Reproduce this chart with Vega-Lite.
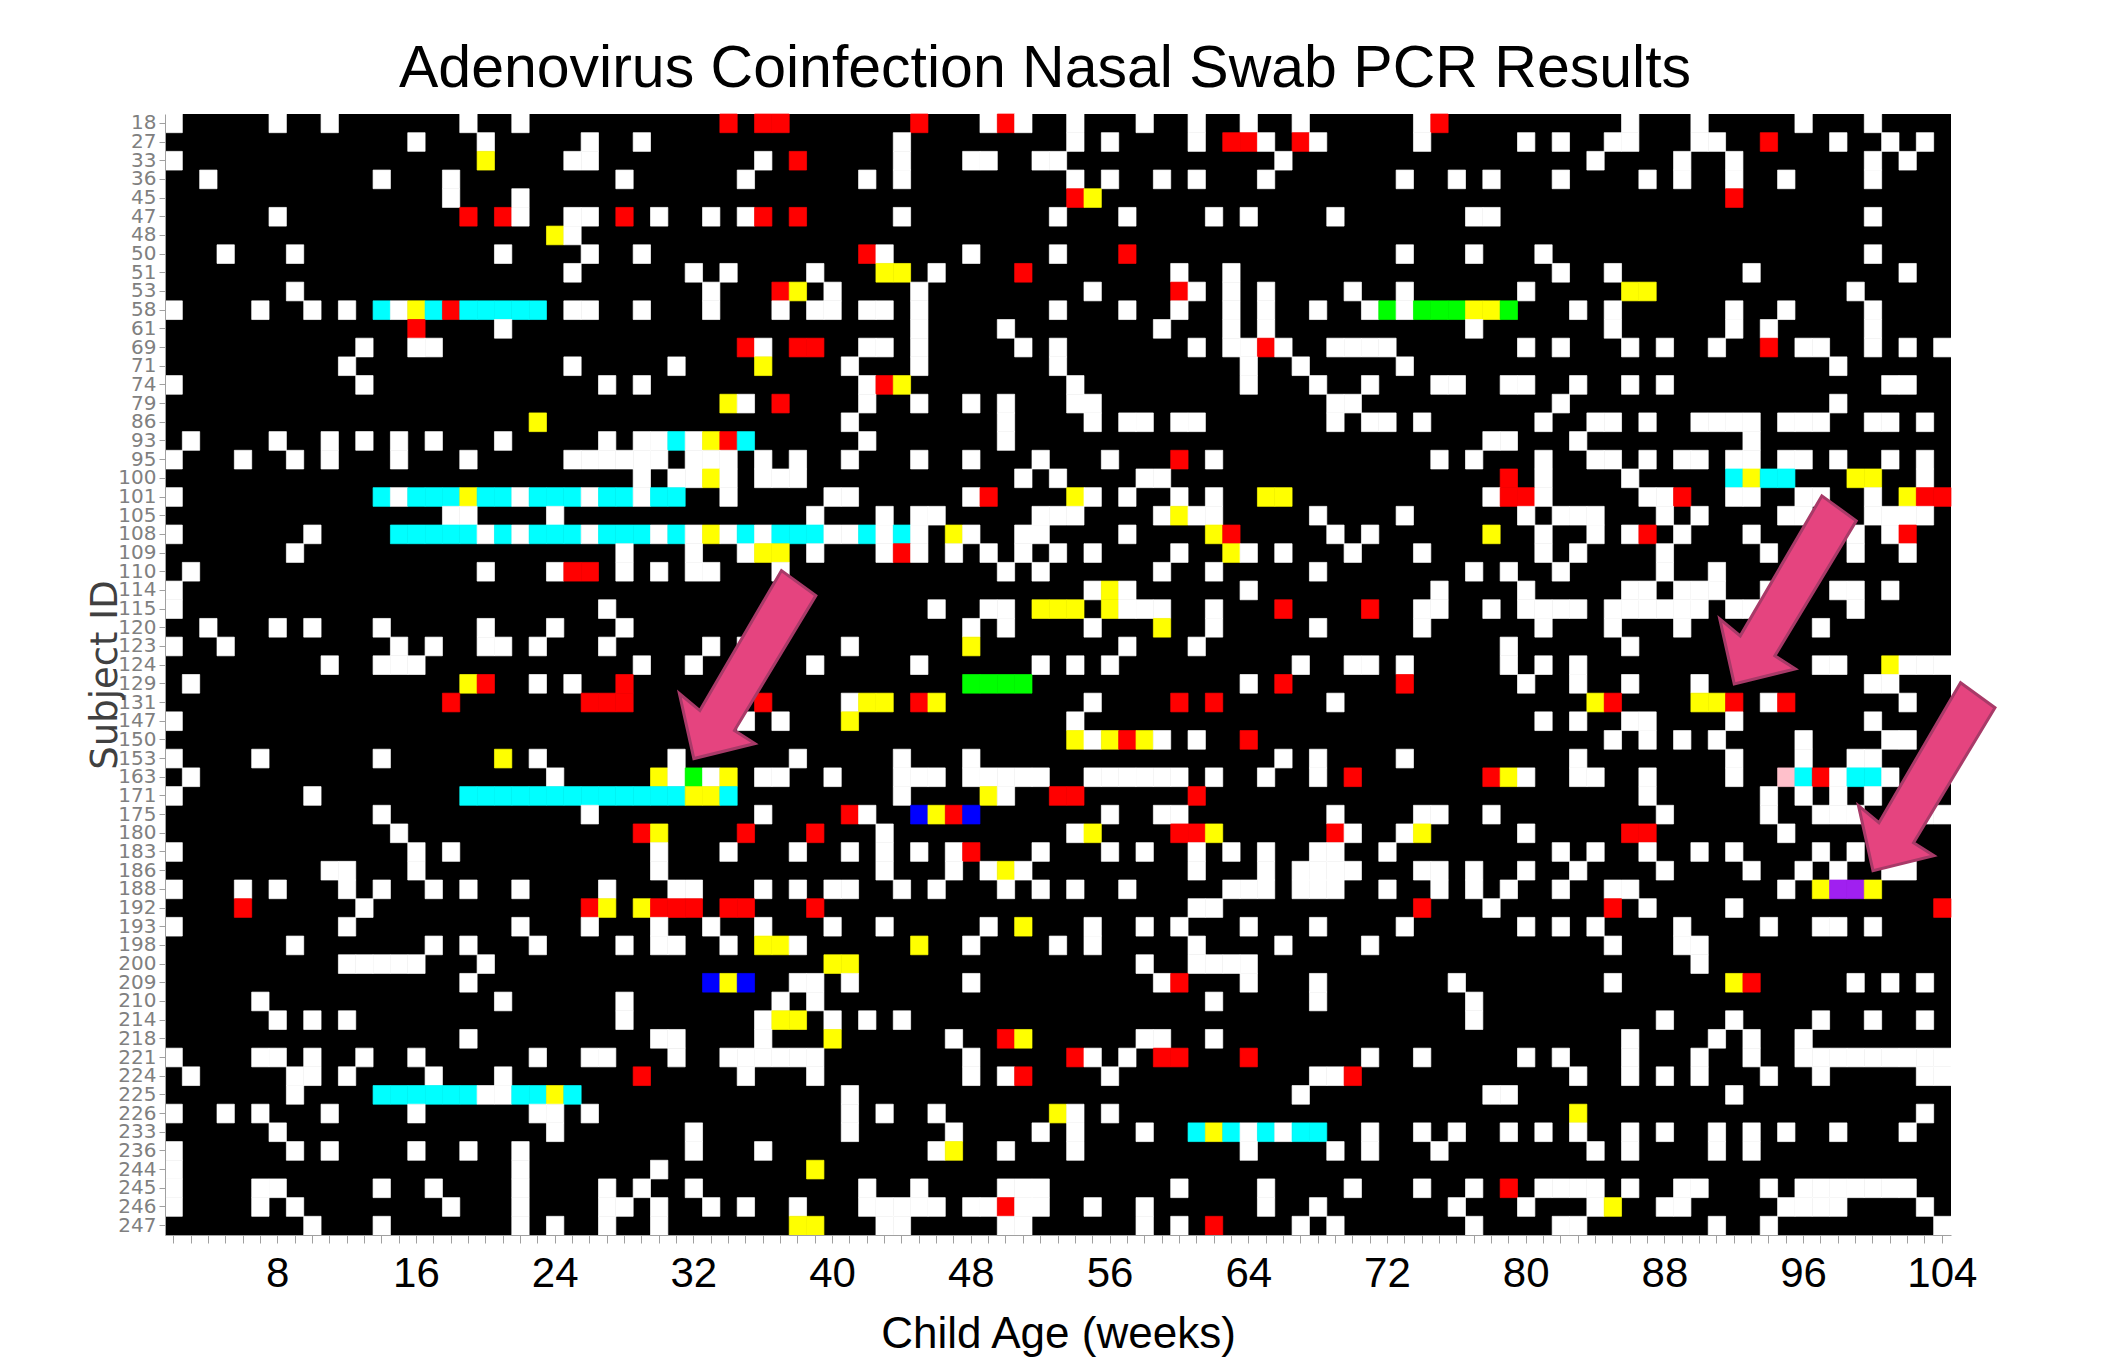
{"$schema":"https://vega.github.io/schema/vega-lite/v6.json","autosize":{"type":"none"},"padding":{"left":165,"top":114,"right":169,"bottom":122},"width":1786,"height":1121,"background":"white","view":{"fill":"black","stroke":null},
"title":{"text":"Adenovirus Coinfection Nasal Swab PCR Results","font":"Liberation Sans","fontSize":59,"fontWeight":"normal","color":"black","offset":14,"dx":-13},
"encoding":{
"x":{"field":"w","type":"ordinal","scale":{"domain":[2,3,4,5,6,7,8,9,10,11,12,13,14,15,16,17,18,19,20,21,22,23,24,25,26,27,28,29,30,31,32,33,34,35,36,37,38,39,40,41,42,43,44,45,46,47,48,49,50,51,52,53,54,55,56,57,58,59,60,61,62,63,64,65,66,67,68,69,70,71,72,73,74,75,76,77,78,79,80,81,82,83,84,85,86,87,88,89,90,91,92,93,94,95,96,97,98,99,100,101,102,103,104],"paddingInner":0,"paddingOuter":0},"axis":{"title":"Child Age (weeks)","titleFont":"Liberation Sans","titleFontSize":44,"titleFontWeight":"normal","titleColor":"black","titlePadding":18,"labelFont":"Liberation Sans","labelFontSize":42,"labelColor":"black","labelAngle":0,"labelOverlap":false,"labelPadding":10,"labelExpr":"datum.value % 8 == 0 ? datum.value : ''","tickSize":8,"tickColor":"#a0a0a0","domainColor":"#a0a0a0","grid":false}},
"y":{"field":"s","type":"ordinal","scale":{"domain":[18,27,33,36,45,47,48,50,51,53,58,61,69,71,74,79,86,93,95,100,101,105,108,109,110,114,115,120,123,124,129,131,147,150,153,163,171,175,180,183,186,188,192,193,198,200,209,210,214,218,221,224,225,226,233,236,244,245,246,247],"paddingInner":0,"paddingOuter":0},"axis":{"title":"Subject ID","titleFont":"DejaVu Sans","titleFontSize":37,"titleFontWeight":"normal","titleColor":"#404040","titlePadding":-7,"labelFont":"DejaVu Sans","labelFontSize":20,"labelColor":"#808080","labelOverlap":false,"labelPadding":3,"tickSize":6,"tickColor":"#a0a0a0","domainColor":"#a0a0a0","grid":false}}},
"layer":[
{"data":{"values":[
{"s":18,"w":2,"c":"W"},{"s":18,"w":8,"c":"W"},{"s":18,"w":11,"c":"W"},{"s":18,"w":19,"c":"W"},{"s":18,"w":22,"c":"W"},{"s":18,"w":34,"c":"R"},{"s":18,"w":36,"c":"R"},{"s":18,"w":37,"c":"R"},{"s":18,"w":45,"c":"R"},{"s":18,"w":49,"c":"W"},{"s":18,"w":50,"c":"R"},{"s":18,"w":51,"c":"W"},{"s":18,"w":54,"c":"W"},{"s":18,"w":58,"c":"W"},{"s":18,"w":61,"c":"W"},{"s":18,"w":64,"c":"W"},{"s":18,"w":67,"c":"W"},{"s":18,"w":74,"c":"W"},{"s":18,"w":75,"c":"R"},{"s":18,"w":86,"c":"W"},{"s":18,"w":90,"c":"W"},{"s":18,"w":96,"c":"W"},{"s":18,"w":100,"c":"W"},
{"s":27,"w":16,"c":"W"},{"s":27,"w":20,"c":"W"},{"s":27,"w":26,"c":"W"},{"s":27,"w":29,"c":"W"},{"s":27,"w":44,"c":"W"},{"s":27,"w":54,"c":"W"},{"s":27,"w":56,"c":"W"},{"s":27,"w":61,"c":"W"},{"s":27,"w":63,"c":"R"},{"s":27,"w":64,"c":"R"},{"s":27,"w":65,"c":"W"},{"s":27,"w":67,"c":"R"},{"s":27,"w":68,"c":"W"},{"s":27,"w":74,"c":"W"},{"s":27,"w":80,"c":"W"},{"s":27,"w":82,"c":"W"},{"s":27,"w":85,"c":"W"},{"s":27,"w":86,"c":"W"},{"s":27,"w":90,"c":"W"},{"s":27,"w":91,"c":"W"},{"s":27,"w":94,"c":"R"},{"s":27,"w":98,"c":"W"},{"s":27,"w":101,"c":"W"},{"s":27,"w":103,"c":"W"},
{"s":33,"w":2,"c":"W"},{"s":33,"w":20,"c":"Y"},{"s":33,"w":25,"c":"W"},{"s":33,"w":26,"c":"W"},{"s":33,"w":36,"c":"W"},{"s":33,"w":38,"c":"R"},{"s":33,"w":44,"c":"W"},{"s":33,"w":48,"c":"W"},{"s":33,"w":49,"c":"W"},{"s":33,"w":52,"c":"W"},{"s":33,"w":53,"c":"W"},{"s":33,"w":66,"c":"W"},{"s":33,"w":84,"c":"W"},{"s":33,"w":89,"c":"W"},{"s":33,"w":92,"c":"W"},{"s":33,"w":100,"c":"W"},{"s":33,"w":102,"c":"W"},
{"s":36,"w":4,"c":"W"},{"s":36,"w":14,"c":"W"},{"s":36,"w":18,"c":"W"},{"s":36,"w":28,"c":"W"},{"s":36,"w":35,"c":"W"},{"s":36,"w":42,"c":"W"},{"s":36,"w":44,"c":"W"},{"s":36,"w":54,"c":"W"},{"s":36,"w":56,"c":"W"},{"s":36,"w":59,"c":"W"},{"s":36,"w":61,"c":"W"},{"s":36,"w":65,"c":"W"},{"s":36,"w":73,"c":"W"},{"s":36,"w":76,"c":"W"},{"s":36,"w":78,"c":"W"},{"s":36,"w":82,"c":"W"},{"s":36,"w":87,"c":"W"},{"s":36,"w":89,"c":"W"},{"s":36,"w":92,"c":"W"},{"s":36,"w":95,"c":"W"},{"s":36,"w":100,"c":"W"},
{"s":45,"w":18,"c":"W"},{"s":45,"w":22,"c":"W"},{"s":45,"w":54,"c":"R"},{"s":45,"w":55,"c":"Y"},{"s":45,"w":92,"c":"R"},
{"s":47,"w":8,"c":"W"},{"s":47,"w":19,"c":"R"},{"s":47,"w":21,"c":"R"},{"s":47,"w":22,"c":"W"},{"s":47,"w":25,"c":"W"},{"s":47,"w":26,"c":"W"},{"s":47,"w":28,"c":"R"},{"s":47,"w":30,"c":"W"},{"s":47,"w":33,"c":"W"},{"s":47,"w":35,"c":"W"},{"s":47,"w":36,"c":"R"},{"s":47,"w":38,"c":"R"},{"s":47,"w":44,"c":"W"},{"s":47,"w":53,"c":"W"},{"s":47,"w":57,"c":"W"},{"s":47,"w":62,"c":"W"},{"s":47,"w":64,"c":"W"},{"s":47,"w":69,"c":"W"},{"s":47,"w":77,"c":"W"},{"s":47,"w":78,"c":"W"},{"s":47,"w":100,"c":"W"},
{"s":48,"w":24,"c":"Y"},{"s":48,"w":25,"c":"W"},
{"s":50,"w":5,"c":"W"},{"s":50,"w":9,"c":"W"},{"s":50,"w":21,"c":"W"},{"s":50,"w":26,"c":"W"},{"s":50,"w":29,"c":"W"},{"s":50,"w":42,"c":"R"},{"s":50,"w":43,"c":"W"},{"s":50,"w":48,"c":"W"},{"s":50,"w":53,"c":"W"},{"s":50,"w":57,"c":"R"},{"s":50,"w":73,"c":"W"},{"s":50,"w":77,"c":"W"},{"s":50,"w":81,"c":"W"},{"s":50,"w":100,"c":"W"},
{"s":51,"w":25,"c":"W"},{"s":51,"w":32,"c":"W"},{"s":51,"w":34,"c":"W"},{"s":51,"w":39,"c":"W"},{"s":51,"w":43,"c":"Y"},{"s":51,"w":44,"c":"Y"},{"s":51,"w":46,"c":"W"},{"s":51,"w":51,"c":"R"},{"s":51,"w":60,"c":"W"},{"s":51,"w":63,"c":"W"},{"s":51,"w":82,"c":"W"},{"s":51,"w":85,"c":"W"},{"s":51,"w":93,"c":"W"},{"s":51,"w":102,"c":"W"},
{"s":53,"w":9,"c":"W"},{"s":53,"w":33,"c":"W"},{"s":53,"w":37,"c":"R"},{"s":53,"w":38,"c":"Y"},{"s":53,"w":40,"c":"W"},{"s":53,"w":45,"c":"W"},{"s":53,"w":55,"c":"W"},{"s":53,"w":60,"c":"R"},{"s":53,"w":61,"c":"W"},{"s":53,"w":63,"c":"W"},{"s":53,"w":65,"c":"W"},{"s":53,"w":70,"c":"W"},{"s":53,"w":73,"c":"W"},{"s":53,"w":80,"c":"W"},{"s":53,"w":86,"c":"Y"},{"s":53,"w":87,"c":"Y"},{"s":53,"w":99,"c":"W"},
{"s":58,"w":2,"c":"W"},{"s":58,"w":7,"c":"W"},{"s":58,"w":10,"c":"W"},{"s":58,"w":12,"c":"W"},{"s":58,"w":14,"c":"C"},{"s":58,"w":15,"c":"W"},{"s":58,"w":16,"c":"Y"},{"s":58,"w":17,"c":"C"},{"s":58,"w":18,"c":"R"},{"s":58,"w":19,"c":"C"},{"s":58,"w":20,"c":"C"},{"s":58,"w":21,"c":"C"},{"s":58,"w":22,"c":"C"},{"s":58,"w":23,"c":"C"},{"s":58,"w":25,"c":"W"},{"s":58,"w":26,"c":"W"},{"s":58,"w":29,"c":"W"},{"s":58,"w":33,"c":"W"},{"s":58,"w":37,"c":"W"},{"s":58,"w":39,"c":"W"},{"s":58,"w":40,"c":"W"},{"s":58,"w":42,"c":"W"},{"s":58,"w":43,"c":"W"},{"s":58,"w":45,"c":"W"},{"s":58,"w":53,"c":"W"},{"s":58,"w":57,"c":"W"},{"s":58,"w":60,"c":"W"},{"s":58,"w":63,"c":"W"},{"s":58,"w":65,"c":"W"},{"s":58,"w":68,"c":"W"},{"s":58,"w":71,"c":"W"},{"s":58,"w":72,"c":"G"},{"s":58,"w":73,"c":"W"},{"s":58,"w":74,"c":"G"},{"s":58,"w":75,"c":"G"},{"s":58,"w":76,"c":"G"},{"s":58,"w":77,"c":"Y"},{"s":58,"w":78,"c":"Y"},{"s":58,"w":79,"c":"G"},{"s":58,"w":83,"c":"W"},{"s":58,"w":85,"c":"W"},{"s":58,"w":92,"c":"W"},{"s":58,"w":95,"c":"W"},{"s":58,"w":100,"c":"W"},
{"s":61,"w":16,"c":"R"},{"s":61,"w":21,"c":"W"},{"s":61,"w":45,"c":"W"},{"s":61,"w":50,"c":"W"},{"s":61,"w":59,"c":"W"},{"s":61,"w":63,"c":"W"},{"s":61,"w":65,"c":"W"},{"s":61,"w":77,"c":"W"},{"s":61,"w":85,"c":"W"},{"s":61,"w":92,"c":"W"},{"s":61,"w":94,"c":"W"},{"s":61,"w":100,"c":"W"},
{"s":69,"w":13,"c":"W"},{"s":69,"w":16,"c":"W"},{"s":69,"w":17,"c":"W"},{"s":69,"w":35,"c":"R"},{"s":69,"w":36,"c":"W"},{"s":69,"w":38,"c":"R"},{"s":69,"w":39,"c":"R"},{"s":69,"w":42,"c":"W"},{"s":69,"w":43,"c":"W"},{"s":69,"w":45,"c":"W"},{"s":69,"w":51,"c":"W"},{"s":69,"w":53,"c":"W"},{"s":69,"w":61,"c":"W"},{"s":69,"w":63,"c":"W"},{"s":69,"w":64,"c":"W"},{"s":69,"w":65,"c":"R"},{"s":69,"w":66,"c":"W"},{"s":69,"w":69,"c":"W"},{"s":69,"w":70,"c":"W"},{"s":69,"w":71,"c":"W"},{"s":69,"w":72,"c":"W"},{"s":69,"w":80,"c":"W"},{"s":69,"w":82,"c":"W"},{"s":69,"w":86,"c":"W"},{"s":69,"w":88,"c":"W"},{"s":69,"w":91,"c":"W"},{"s":69,"w":94,"c":"R"},{"s":69,"w":96,"c":"W"},{"s":69,"w":97,"c":"W"},{"s":69,"w":100,"c":"W"},{"s":69,"w":102,"c":"W"},{"s":69,"w":104,"c":"W"},
{"s":71,"w":12,"c":"W"},{"s":71,"w":25,"c":"W"},{"s":71,"w":31,"c":"W"},{"s":71,"w":36,"c":"Y"},{"s":71,"w":41,"c":"W"},{"s":71,"w":45,"c":"W"},{"s":71,"w":53,"c":"W"},{"s":71,"w":64,"c":"W"},{"s":71,"w":67,"c":"W"},{"s":71,"w":73,"c":"W"},{"s":71,"w":98,"c":"W"},
{"s":74,"w":2,"c":"W"},{"s":74,"w":13,"c":"W"},{"s":74,"w":27,"c":"W"},{"s":74,"w":29,"c":"W"},{"s":74,"w":42,"c":"W"},{"s":74,"w":43,"c":"R"},{"s":74,"w":44,"c":"Y"},{"s":74,"w":54,"c":"W"},{"s":74,"w":64,"c":"W"},{"s":74,"w":68,"c":"W"},{"s":74,"w":71,"c":"W"},{"s":74,"w":75,"c":"W"},{"s":74,"w":76,"c":"W"},{"s":74,"w":79,"c":"W"},{"s":74,"w":80,"c":"W"},{"s":74,"w":83,"c":"W"},{"s":74,"w":86,"c":"W"},{"s":74,"w":88,"c":"W"},{"s":74,"w":101,"c":"W"},{"s":74,"w":102,"c":"W"},
{"s":79,"w":34,"c":"Y"},{"s":79,"w":35,"c":"W"},{"s":79,"w":37,"c":"R"},{"s":79,"w":42,"c":"W"},{"s":79,"w":45,"c":"W"},{"s":79,"w":48,"c":"W"},{"s":79,"w":50,"c":"W"},{"s":79,"w":54,"c":"W"},{"s":79,"w":55,"c":"W"},{"s":79,"w":69,"c":"W"},{"s":79,"w":70,"c":"W"},{"s":79,"w":82,"c":"W"},{"s":79,"w":98,"c":"W"},
{"s":86,"w":23,"c":"Y"},{"s":86,"w":41,"c":"W"},{"s":86,"w":50,"c":"W"},{"s":86,"w":55,"c":"W"},{"s":86,"w":57,"c":"W"},{"s":86,"w":58,"c":"W"},{"s":86,"w":60,"c":"W"},{"s":86,"w":61,"c":"W"},{"s":86,"w":69,"c":"W"},{"s":86,"w":71,"c":"W"},{"s":86,"w":72,"c":"W"},{"s":86,"w":74,"c":"W"},{"s":86,"w":81,"c":"W"},{"s":86,"w":84,"c":"W"},{"s":86,"w":85,"c":"W"},{"s":86,"w":87,"c":"W"},{"s":86,"w":90,"c":"W"},{"s":86,"w":91,"c":"W"},{"s":86,"w":92,"c":"W"},{"s":86,"w":93,"c":"W"},{"s":86,"w":95,"c":"W"},{"s":86,"w":96,"c":"W"},{"s":86,"w":97,"c":"W"},{"s":86,"w":100,"c":"W"},{"s":86,"w":101,"c":"W"},{"s":86,"w":103,"c":"W"},
{"s":93,"w":3,"c":"W"},{"s":93,"w":8,"c":"W"},{"s":93,"w":11,"c":"W"},{"s":93,"w":13,"c":"W"},{"s":93,"w":15,"c":"W"},{"s":93,"w":17,"c":"W"},{"s":93,"w":21,"c":"W"},{"s":93,"w":27,"c":"W"},{"s":93,"w":29,"c":"W"},{"s":93,"w":30,"c":"W"},{"s":93,"w":31,"c":"C"},{"s":93,"w":32,"c":"W"},{"s":93,"w":33,"c":"Y"},{"s":93,"w":34,"c":"R"},{"s":93,"w":35,"c":"C"},{"s":93,"w":42,"c":"W"},{"s":93,"w":50,"c":"W"},{"s":93,"w":78,"c":"W"},{"s":93,"w":79,"c":"W"},{"s":93,"w":83,"c":"W"},{"s":93,"w":93,"c":"W"},
{"s":95,"w":2,"c":"W"},{"s":95,"w":6,"c":"W"},{"s":95,"w":9,"c":"W"},{"s":95,"w":11,"c":"W"},{"s":95,"w":15,"c":"W"},{"s":95,"w":19,"c":"W"},{"s":95,"w":25,"c":"W"},{"s":95,"w":26,"c":"W"},{"s":95,"w":27,"c":"W"},{"s":95,"w":28,"c":"W"},{"s":95,"w":29,"c":"W"},{"s":95,"w":30,"c":"W"},{"s":95,"w":32,"c":"W"},{"s":95,"w":33,"c":"W"},{"s":95,"w":34,"c":"W"},{"s":95,"w":36,"c":"W"},{"s":95,"w":38,"c":"W"},{"s":95,"w":41,"c":"W"},{"s":95,"w":45,"c":"W"},{"s":95,"w":48,"c":"W"},{"s":95,"w":52,"c":"W"},{"s":95,"w":56,"c":"W"},{"s":95,"w":60,"c":"R"},{"s":95,"w":62,"c":"W"},{"s":95,"w":75,"c":"W"},{"s":95,"w":77,"c":"W"},{"s":95,"w":81,"c":"W"},{"s":95,"w":84,"c":"W"},{"s":95,"w":85,"c":"W"},{"s":95,"w":87,"c":"W"},{"s":95,"w":89,"c":"W"},{"s":95,"w":90,"c":"W"},{"s":95,"w":92,"c":"W"},{"s":95,"w":93,"c":"W"},{"s":95,"w":95,"c":"W"},{"s":95,"w":96,"c":"W"},{"s":95,"w":98,"c":"W"},{"s":95,"w":101,"c":"W"},{"s":95,"w":103,"c":"W"},
{"s":100,"w":29,"c":"W"},{"s":100,"w":31,"c":"W"},{"s":100,"w":32,"c":"W"},{"s":100,"w":33,"c":"Y"},{"s":100,"w":34,"c":"W"},{"s":100,"w":36,"c":"W"},{"s":100,"w":37,"c":"W"},{"s":100,"w":38,"c":"W"},{"s":100,"w":51,"c":"W"},{"s":100,"w":53,"c":"W"},{"s":100,"w":58,"c":"W"},{"s":100,"w":59,"c":"W"},{"s":100,"w":79,"c":"R"},{"s":100,"w":81,"c":"W"},{"s":100,"w":86,"c":"W"},{"s":100,"w":92,"c":"C"},{"s":100,"w":93,"c":"Y"},{"s":100,"w":94,"c":"C"},{"s":100,"w":95,"c":"C"},{"s":100,"w":99,"c":"Y"},{"s":100,"w":100,"c":"Y"},{"s":100,"w":103,"c":"W"},
{"s":101,"w":2,"c":"W"},{"s":101,"w":14,"c":"C"},{"s":101,"w":15,"c":"W"},{"s":101,"w":16,"c":"C"},{"s":101,"w":17,"c":"C"},{"s":101,"w":18,"c":"C"},{"s":101,"w":19,"c":"Y"},{"s":101,"w":20,"c":"C"},{"s":101,"w":21,"c":"C"},{"s":101,"w":22,"c":"W"},{"s":101,"w":23,"c":"C"},{"s":101,"w":24,"c":"C"},{"s":101,"w":25,"c":"C"},{"s":101,"w":26,"c":"W"},{"s":101,"w":27,"c":"C"},{"s":101,"w":28,"c":"C"},{"s":101,"w":29,"c":"W"},{"s":101,"w":30,"c":"C"},{"s":101,"w":31,"c":"C"},{"s":101,"w":34,"c":"W"},{"s":101,"w":40,"c":"W"},{"s":101,"w":41,"c":"W"},{"s":101,"w":48,"c":"W"},{"s":101,"w":49,"c":"R"},{"s":101,"w":54,"c":"Y"},{"s":101,"w":55,"c":"W"},{"s":101,"w":57,"c":"W"},{"s":101,"w":60,"c":"W"},{"s":101,"w":62,"c":"W"},{"s":101,"w":65,"c":"Y"},{"s":101,"w":66,"c":"Y"},{"s":101,"w":78,"c":"W"},{"s":101,"w":79,"c":"R"},{"s":101,"w":80,"c":"R"},{"s":101,"w":81,"c":"W"},{"s":101,"w":87,"c":"W"},{"s":101,"w":88,"c":"W"},{"s":101,"w":89,"c":"R"},{"s":101,"w":92,"c":"W"},{"s":101,"w":93,"c":"W"},{"s":101,"w":96,"c":"W"},{"s":101,"w":97,"c":"W"},{"s":101,"w":100,"c":"W"},{"s":101,"w":102,"c":"Y"},{"s":101,"w":103,"c":"R"},{"s":101,"w":104,"c":"R"},
{"s":105,"w":18,"c":"W"},{"s":105,"w":19,"c":"W"},{"s":105,"w":24,"c":"W"},{"s":105,"w":39,"c":"W"},{"s":105,"w":43,"c":"W"},{"s":105,"w":45,"c":"W"},{"s":105,"w":46,"c":"W"},{"s":105,"w":52,"c":"W"},{"s":105,"w":53,"c":"W"},{"s":105,"w":54,"c":"W"},{"s":105,"w":59,"c":"W"},{"s":105,"w":60,"c":"Y"},{"s":105,"w":61,"c":"W"},{"s":105,"w":62,"c":"W"},{"s":105,"w":68,"c":"W"},{"s":105,"w":73,"c":"W"},{"s":105,"w":80,"c":"W"},{"s":105,"w":82,"c":"W"},{"s":105,"w":83,"c":"W"},{"s":105,"w":84,"c":"W"},{"s":105,"w":88,"c":"W"},{"s":105,"w":90,"c":"W"},{"s":105,"w":95,"c":"W"},{"s":105,"w":96,"c":"W"},{"s":105,"w":100,"c":"W"},{"s":105,"w":101,"c":"W"},{"s":105,"w":102,"c":"W"},{"s":105,"w":103,"c":"W"},
{"s":108,"w":2,"c":"W"},{"s":108,"w":10,"c":"W"},{"s":108,"w":15,"c":"C"},{"s":108,"w":16,"c":"C"},{"s":108,"w":17,"c":"C"},{"s":108,"w":18,"c":"C"},{"s":108,"w":19,"c":"C"},{"s":108,"w":20,"c":"W"},{"s":108,"w":21,"c":"C"},{"s":108,"w":22,"c":"W"},{"s":108,"w":23,"c":"C"},{"s":108,"w":24,"c":"C"},{"s":108,"w":25,"c":"C"},{"s":108,"w":26,"c":"W"},{"s":108,"w":27,"c":"C"},{"s":108,"w":28,"c":"C"},{"s":108,"w":29,"c":"C"},{"s":108,"w":30,"c":"W"},{"s":108,"w":31,"c":"C"},{"s":108,"w":32,"c":"W"},{"s":108,"w":33,"c":"Y"},{"s":108,"w":34,"c":"W"},{"s":108,"w":35,"c":"C"},{"s":108,"w":36,"c":"W"},{"s":108,"w":37,"c":"C"},{"s":108,"w":38,"c":"C"},{"s":108,"w":39,"c":"C"},{"s":108,"w":40,"c":"W"},{"s":108,"w":41,"c":"W"},{"s":108,"w":42,"c":"C"},{"s":108,"w":43,"c":"W"},{"s":108,"w":44,"c":"C"},{"s":108,"w":45,"c":"W"},{"s":108,"w":47,"c":"Y"},{"s":108,"w":48,"c":"W"},{"s":108,"w":51,"c":"W"},{"s":108,"w":52,"c":"W"},{"s":108,"w":57,"c":"W"},{"s":108,"w":62,"c":"Y"},{"s":108,"w":63,"c":"R"},{"s":108,"w":69,"c":"W"},{"s":108,"w":71,"c":"W"},{"s":108,"w":78,"c":"Y"},{"s":108,"w":81,"c":"W"},{"s":108,"w":84,"c":"W"},{"s":108,"w":86,"c":"W"},{"s":108,"w":87,"c":"R"},{"s":108,"w":89,"c":"W"},{"s":108,"w":93,"c":"W"},{"s":108,"w":99,"c":"W"},{"s":108,"w":101,"c":"W"},{"s":108,"w":102,"c":"R"},
{"s":109,"w":9,"c":"W"},{"s":109,"w":28,"c":"W"},{"s":109,"w":32,"c":"W"},{"s":109,"w":35,"c":"W"},{"s":109,"w":36,"c":"Y"},{"s":109,"w":37,"c":"Y"},{"s":109,"w":39,"c":"W"},{"s":109,"w":43,"c":"W"},{"s":109,"w":44,"c":"R"},{"s":109,"w":45,"c":"W"},{"s":109,"w":47,"c":"W"},{"s":109,"w":49,"c":"W"},{"s":109,"w":51,"c":"W"},{"s":109,"w":53,"c":"W"},{"s":109,"w":55,"c":"W"},{"s":109,"w":60,"c":"W"},{"s":109,"w":63,"c":"Y"},{"s":109,"w":64,"c":"W"},{"s":109,"w":66,"c":"W"},{"s":109,"w":70,"c":"W"},{"s":109,"w":74,"c":"W"},{"s":109,"w":81,"c":"W"},{"s":109,"w":83,"c":"W"},{"s":109,"w":88,"c":"W"},{"s":109,"w":94,"c":"W"},{"s":109,"w":99,"c":"W"},{"s":109,"w":102,"c":"W"},
{"s":110,"w":3,"c":"W"},{"s":110,"w":20,"c":"W"},{"s":110,"w":24,"c":"W"},{"s":110,"w":25,"c":"R"},{"s":110,"w":26,"c":"R"},{"s":110,"w":28,"c":"W"},{"s":110,"w":30,"c":"W"},{"s":110,"w":32,"c":"W"},{"s":110,"w":33,"c":"W"},{"s":110,"w":37,"c":"W"},{"s":110,"w":50,"c":"W"},{"s":110,"w":52,"c":"W"},{"s":110,"w":59,"c":"W"},{"s":110,"w":62,"c":"W"},{"s":110,"w":68,"c":"W"},{"s":110,"w":77,"c":"W"},{"s":110,"w":79,"c":"W"},{"s":110,"w":82,"c":"W"},{"s":110,"w":88,"c":"W"},{"s":110,"w":91,"c":"W"},
{"s":114,"w":2,"c":"W"},{"s":114,"w":55,"c":"W"},{"s":114,"w":56,"c":"Y"},{"s":114,"w":57,"c":"W"},{"s":114,"w":64,"c":"W"},{"s":114,"w":75,"c":"W"},{"s":114,"w":80,"c":"W"},{"s":114,"w":86,"c":"W"},{"s":114,"w":87,"c":"W"},{"s":114,"w":89,"c":"W"},{"s":114,"w":90,"c":"W"},{"s":114,"w":91,"c":"W"},{"s":114,"w":94,"c":"W"},{"s":114,"w":98,"c":"W"},{"s":114,"w":99,"c":"W"},{"s":114,"w":101,"c":"W"},
{"s":115,"w":2,"c":"W"},{"s":115,"w":27,"c":"W"},{"s":115,"w":46,"c":"W"},{"s":115,"w":49,"c":"W"},{"s":115,"w":50,"c":"W"},{"s":115,"w":52,"c":"Y"},{"s":115,"w":53,"c":"Y"},{"s":115,"w":54,"c":"Y"},{"s":115,"w":56,"c":"Y"},{"s":115,"w":57,"c":"W"},{"s":115,"w":58,"c":"W"},{"s":115,"w":59,"c":"W"},{"s":115,"w":62,"c":"W"},{"s":115,"w":66,"c":"R"},{"s":115,"w":71,"c":"R"},{"s":115,"w":74,"c":"W"},{"s":115,"w":75,"c":"W"},{"s":115,"w":78,"c":"W"},{"s":115,"w":80,"c":"W"},{"s":115,"w":81,"c":"W"},{"s":115,"w":82,"c":"W"},{"s":115,"w":83,"c":"W"},{"s":115,"w":85,"c":"W"},{"s":115,"w":86,"c":"W"},{"s":115,"w":87,"c":"W"},{"s":115,"w":88,"c":"W"},{"s":115,"w":89,"c":"W"},{"s":115,"w":90,"c":"W"},{"s":115,"w":92,"c":"W"},{"s":115,"w":93,"c":"W"},{"s":115,"w":99,"c":"W"},
{"s":120,"w":4,"c":"W"},{"s":120,"w":8,"c":"W"},{"s":120,"w":10,"c":"W"},{"s":120,"w":14,"c":"W"},{"s":120,"w":20,"c":"W"},{"s":120,"w":24,"c":"W"},{"s":120,"w":28,"c":"W"},{"s":120,"w":48,"c":"W"},{"s":120,"w":50,"c":"W"},{"s":120,"w":55,"c":"W"},{"s":120,"w":59,"c":"Y"},{"s":120,"w":62,"c":"W"},{"s":120,"w":68,"c":"W"},{"s":120,"w":74,"c":"W"},{"s":120,"w":81,"c":"W"},{"s":120,"w":85,"c":"W"},{"s":120,"w":89,"c":"W"},{"s":120,"w":97,"c":"W"},
{"s":123,"w":2,"c":"W"},{"s":123,"w":5,"c":"W"},{"s":123,"w":15,"c":"W"},{"s":123,"w":17,"c":"W"},{"s":123,"w":20,"c":"W"},{"s":123,"w":21,"c":"W"},{"s":123,"w":23,"c":"W"},{"s":123,"w":27,"c":"W"},{"s":123,"w":33,"c":"W"},{"s":123,"w":35,"c":"W"},{"s":123,"w":41,"c":"W"},{"s":123,"w":48,"c":"Y"},{"s":123,"w":57,"c":"W"},{"s":123,"w":61,"c":"W"},{"s":123,"w":79,"c":"W"},{"s":123,"w":86,"c":"W"},
{"s":124,"w":11,"c":"W"},{"s":124,"w":14,"c":"W"},{"s":124,"w":15,"c":"W"},{"s":124,"w":16,"c":"W"},{"s":124,"w":29,"c":"W"},{"s":124,"w":32,"c":"W"},{"s":124,"w":39,"c":"W"},{"s":124,"w":45,"c":"W"},{"s":124,"w":52,"c":"W"},{"s":124,"w":54,"c":"W"},{"s":124,"w":56,"c":"W"},{"s":124,"w":67,"c":"W"},{"s":124,"w":70,"c":"W"},{"s":124,"w":71,"c":"W"},{"s":124,"w":73,"c":"W"},{"s":124,"w":79,"c":"W"},{"s":124,"w":81,"c":"W"},{"s":124,"w":83,"c":"W"},{"s":124,"w":97,"c":"W"},{"s":124,"w":98,"c":"W"},{"s":124,"w":101,"c":"Y"},{"s":124,"w":102,"c":"W"},{"s":124,"w":103,"c":"W"},{"s":124,"w":104,"c":"W"},
{"s":129,"w":3,"c":"W"},{"s":129,"w":19,"c":"Y"},{"s":129,"w":20,"c":"R"},{"s":129,"w":23,"c":"W"},{"s":129,"w":25,"c":"W"},{"s":129,"w":28,"c":"R"},{"s":129,"w":48,"c":"G"},{"s":129,"w":49,"c":"G"},{"s":129,"w":50,"c":"G"},{"s":129,"w":51,"c":"G"},{"s":129,"w":64,"c":"W"},{"s":129,"w":66,"c":"R"},{"s":129,"w":73,"c":"R"},{"s":129,"w":80,"c":"W"},{"s":129,"w":83,"c":"W"},{"s":129,"w":86,"c":"W"},{"s":129,"w":90,"c":"W"},{"s":129,"w":100,"c":"W"},{"s":129,"w":101,"c":"W"},
{"s":131,"w":18,"c":"R"},{"s":131,"w":26,"c":"R"},{"s":131,"w":27,"c":"R"},{"s":131,"w":28,"c":"R"},{"s":131,"w":36,"c":"R"},{"s":131,"w":41,"c":"W"},{"s":131,"w":42,"c":"Y"},{"s":131,"w":43,"c":"Y"},{"s":131,"w":45,"c":"R"},{"s":131,"w":46,"c":"Y"},{"s":131,"w":55,"c":"W"},{"s":131,"w":60,"c":"R"},{"s":131,"w":62,"c":"R"},{"s":131,"w":69,"c":"W"},{"s":131,"w":84,"c":"Y"},{"s":131,"w":85,"c":"R"},{"s":131,"w":90,"c":"Y"},{"s":131,"w":91,"c":"Y"},{"s":131,"w":92,"c":"R"},{"s":131,"w":94,"c":"W"},{"s":131,"w":95,"c":"R"},{"s":131,"w":102,"c":"W"},
{"s":147,"w":2,"c":"W"},{"s":147,"w":35,"c":"W"},{"s":147,"w":37,"c":"W"},{"s":147,"w":41,"c":"Y"},{"s":147,"w":54,"c":"W"},{"s":147,"w":81,"c":"W"},{"s":147,"w":83,"c":"W"},{"s":147,"w":86,"c":"W"},{"s":147,"w":87,"c":"W"},{"s":147,"w":92,"c":"W"},{"s":147,"w":100,"c":"W"},
{"s":150,"w":54,"c":"Y"},{"s":150,"w":55,"c":"W"},{"s":150,"w":56,"c":"Y"},{"s":150,"w":57,"c":"R"},{"s":150,"w":58,"c":"Y"},{"s":150,"w":59,"c":"W"},{"s":150,"w":61,"c":"W"},{"s":150,"w":64,"c":"R"},{"s":150,"w":85,"c":"W"},{"s":150,"w":87,"c":"W"},{"s":150,"w":89,"c":"W"},{"s":150,"w":91,"c":"W"},{"s":150,"w":96,"c":"W"},{"s":150,"w":101,"c":"W"},{"s":150,"w":102,"c":"W"},
{"s":153,"w":2,"c":"W"},{"s":153,"w":7,"c":"W"},{"s":153,"w":14,"c":"W"},{"s":153,"w":21,"c":"Y"},{"s":153,"w":23,"c":"W"},{"s":153,"w":31,"c":"W"},{"s":153,"w":38,"c":"W"},{"s":153,"w":44,"c":"W"},{"s":153,"w":48,"c":"W"},{"s":153,"w":66,"c":"W"},{"s":153,"w":68,"c":"W"},{"s":153,"w":73,"c":"W"},{"s":153,"w":83,"c":"W"},{"s":153,"w":92,"c":"W"},{"s":153,"w":96,"c":"W"},{"s":153,"w":99,"c":"W"},{"s":153,"w":100,"c":"W"},
{"s":163,"w":3,"c":"W"},{"s":163,"w":24,"c":"W"},{"s":163,"w":30,"c":"Y"},{"s":163,"w":31,"c":"W"},{"s":163,"w":32,"c":"G"},{"s":163,"w":33,"c":"W"},{"s":163,"w":34,"c":"Y"},{"s":163,"w":36,"c":"W"},{"s":163,"w":37,"c":"W"},{"s":163,"w":40,"c":"W"},{"s":163,"w":44,"c":"W"},{"s":163,"w":45,"c":"W"},{"s":163,"w":46,"c":"W"},{"s":163,"w":48,"c":"W"},{"s":163,"w":49,"c":"W"},{"s":163,"w":50,"c":"W"},{"s":163,"w":51,"c":"W"},{"s":163,"w":52,"c":"W"},{"s":163,"w":55,"c":"W"},{"s":163,"w":56,"c":"W"},{"s":163,"w":57,"c":"W"},{"s":163,"w":58,"c":"W"},{"s":163,"w":59,"c":"W"},{"s":163,"w":60,"c":"W"},{"s":163,"w":62,"c":"W"},{"s":163,"w":65,"c":"W"},{"s":163,"w":68,"c":"W"},{"s":163,"w":70,"c":"R"},{"s":163,"w":78,"c":"R"},{"s":163,"w":79,"c":"Y"},{"s":163,"w":80,"c":"W"},{"s":163,"w":83,"c":"W"},{"s":163,"w":84,"c":"W"},{"s":163,"w":87,"c":"W"},{"s":163,"w":92,"c":"W"},{"s":163,"w":95,"c":"K"},{"s":163,"w":96,"c":"C"},{"s":163,"w":97,"c":"R"},{"s":163,"w":98,"c":"W"},{"s":163,"w":99,"c":"C"},{"s":163,"w":100,"c":"C"},{"s":163,"w":101,"c":"W"},
{"s":171,"w":2,"c":"W"},{"s":171,"w":10,"c":"W"},{"s":171,"w":19,"c":"C"},{"s":171,"w":20,"c":"C"},{"s":171,"w":21,"c":"C"},{"s":171,"w":22,"c":"C"},{"s":171,"w":23,"c":"C"},{"s":171,"w":24,"c":"C"},{"s":171,"w":25,"c":"C"},{"s":171,"w":26,"c":"C"},{"s":171,"w":27,"c":"C"},{"s":171,"w":28,"c":"C"},{"s":171,"w":29,"c":"C"},{"s":171,"w":30,"c":"C"},{"s":171,"w":31,"c":"C"},{"s":171,"w":32,"c":"Y"},{"s":171,"w":33,"c":"Y"},{"s":171,"w":34,"c":"C"},{"s":171,"w":44,"c":"W"},{"s":171,"w":49,"c":"Y"},{"s":171,"w":50,"c":"W"},{"s":171,"w":53,"c":"R"},{"s":171,"w":54,"c":"R"},{"s":171,"w":61,"c":"R"},{"s":171,"w":87,"c":"W"},{"s":171,"w":94,"c":"W"},{"s":171,"w":96,"c":"W"},{"s":171,"w":98,"c":"W"},{"s":171,"w":100,"c":"W"},
{"s":175,"w":14,"c":"W"},{"s":175,"w":26,"c":"W"},{"s":175,"w":36,"c":"W"},{"s":175,"w":41,"c":"R"},{"s":175,"w":42,"c":"W"},{"s":175,"w":45,"c":"B"},{"s":175,"w":46,"c":"Y"},{"s":175,"w":47,"c":"R"},{"s":175,"w":48,"c":"B"},{"s":175,"w":56,"c":"W"},{"s":175,"w":59,"c":"W"},{"s":175,"w":60,"c":"W"},{"s":175,"w":69,"c":"W"},{"s":175,"w":74,"c":"W"},{"s":175,"w":75,"c":"W"},{"s":175,"w":78,"c":"W"},{"s":175,"w":88,"c":"W"},{"s":175,"w":94,"c":"W"},{"s":175,"w":97,"c":"W"},{"s":175,"w":98,"c":"W"},{"s":175,"w":99,"c":"W"},{"s":175,"w":103,"c":"W"},{"s":175,"w":104,"c":"W"},
{"s":180,"w":15,"c":"W"},{"s":180,"w":29,"c":"R"},{"s":180,"w":30,"c":"Y"},{"s":180,"w":35,"c":"R"},{"s":180,"w":39,"c":"R"},{"s":180,"w":43,"c":"W"},{"s":180,"w":54,"c":"W"},{"s":180,"w":55,"c":"Y"},{"s":180,"w":60,"c":"R"},{"s":180,"w":61,"c":"R"},{"s":180,"w":62,"c":"Y"},{"s":180,"w":69,"c":"R"},{"s":180,"w":70,"c":"W"},{"s":180,"w":73,"c":"W"},{"s":180,"w":74,"c":"Y"},{"s":180,"w":80,"c":"W"},{"s":180,"w":86,"c":"R"},{"s":180,"w":87,"c":"R"},{"s":180,"w":95,"c":"W"},
{"s":183,"w":2,"c":"W"},{"s":183,"w":16,"c":"W"},{"s":183,"w":18,"c":"W"},{"s":183,"w":30,"c":"W"},{"s":183,"w":34,"c":"W"},{"s":183,"w":38,"c":"W"},{"s":183,"w":41,"c":"W"},{"s":183,"w":43,"c":"W"},{"s":183,"w":45,"c":"W"},{"s":183,"w":47,"c":"W"},{"s":183,"w":48,"c":"R"},{"s":183,"w":52,"c":"W"},{"s":183,"w":56,"c":"W"},{"s":183,"w":58,"c":"W"},{"s":183,"w":61,"c":"W"},{"s":183,"w":63,"c":"W"},{"s":183,"w":65,"c":"W"},{"s":183,"w":68,"c":"W"},{"s":183,"w":69,"c":"W"},{"s":183,"w":72,"c":"W"},{"s":183,"w":82,"c":"W"},{"s":183,"w":84,"c":"W"},{"s":183,"w":87,"c":"W"},{"s":183,"w":90,"c":"W"},{"s":183,"w":92,"c":"W"},{"s":183,"w":97,"c":"W"},{"s":183,"w":99,"c":"W"},
{"s":186,"w":11,"c":"W"},{"s":186,"w":12,"c":"W"},{"s":186,"w":16,"c":"W"},{"s":186,"w":30,"c":"W"},{"s":186,"w":43,"c":"W"},{"s":186,"w":47,"c":"W"},{"s":186,"w":49,"c":"W"},{"s":186,"w":50,"c":"Y"},{"s":186,"w":51,"c":"W"},{"s":186,"w":61,"c":"W"},{"s":186,"w":65,"c":"W"},{"s":186,"w":67,"c":"W"},{"s":186,"w":68,"c":"W"},{"s":186,"w":69,"c":"W"},{"s":186,"w":70,"c":"W"},{"s":186,"w":74,"c":"W"},{"s":186,"w":75,"c":"W"},{"s":186,"w":77,"c":"W"},{"s":186,"w":80,"c":"W"},{"s":186,"w":83,"c":"W"},{"s":186,"w":88,"c":"W"},{"s":186,"w":93,"c":"W"},{"s":186,"w":96,"c":"W"},{"s":186,"w":98,"c":"W"},{"s":186,"w":101,"c":"W"},{"s":186,"w":102,"c":"W"},
{"s":188,"w":2,"c":"W"},{"s":188,"w":6,"c":"W"},{"s":188,"w":8,"c":"W"},{"s":188,"w":12,"c":"W"},{"s":188,"w":14,"c":"W"},{"s":188,"w":17,"c":"W"},{"s":188,"w":19,"c":"W"},{"s":188,"w":22,"c":"W"},{"s":188,"w":27,"c":"W"},{"s":188,"w":31,"c":"W"},{"s":188,"w":32,"c":"W"},{"s":188,"w":36,"c":"W"},{"s":188,"w":38,"c":"W"},{"s":188,"w":40,"c":"W"},{"s":188,"w":41,"c":"W"},{"s":188,"w":44,"c":"W"},{"s":188,"w":46,"c":"W"},{"s":188,"w":50,"c":"W"},{"s":188,"w":52,"c":"W"},{"s":188,"w":54,"c":"W"},{"s":188,"w":57,"c":"W"},{"s":188,"w":63,"c":"W"},{"s":188,"w":64,"c":"W"},{"s":188,"w":65,"c":"W"},{"s":188,"w":67,"c":"W"},{"s":188,"w":68,"c":"W"},{"s":188,"w":69,"c":"W"},{"s":188,"w":72,"c":"W"},{"s":188,"w":75,"c":"W"},{"s":188,"w":77,"c":"W"},{"s":188,"w":79,"c":"W"},{"s":188,"w":82,"c":"W"},{"s":188,"w":85,"c":"W"},{"s":188,"w":86,"c":"W"},{"s":188,"w":95,"c":"W"},{"s":188,"w":97,"c":"Y"},{"s":188,"w":98,"c":"P"},{"s":188,"w":99,"c":"P"},{"s":188,"w":100,"c":"Y"},
{"s":192,"w":6,"c":"R"},{"s":192,"w":13,"c":"W"},{"s":192,"w":26,"c":"R"},{"s":192,"w":27,"c":"Y"},{"s":192,"w":29,"c":"Y"},{"s":192,"w":30,"c":"R"},{"s":192,"w":31,"c":"R"},{"s":192,"w":32,"c":"R"},{"s":192,"w":34,"c":"R"},{"s":192,"w":35,"c":"R"},{"s":192,"w":39,"c":"R"},{"s":192,"w":61,"c":"W"},{"s":192,"w":62,"c":"W"},{"s":192,"w":74,"c":"R"},{"s":192,"w":78,"c":"W"},{"s":192,"w":85,"c":"R"},{"s":192,"w":87,"c":"W"},{"s":192,"w":92,"c":"W"},{"s":192,"w":104,"c":"R"},
{"s":193,"w":2,"c":"W"},{"s":193,"w":12,"c":"W"},{"s":193,"w":22,"c":"W"},{"s":193,"w":26,"c":"W"},{"s":193,"w":30,"c":"W"},{"s":193,"w":33,"c":"W"},{"s":193,"w":36,"c":"W"},{"s":193,"w":40,"c":"W"},{"s":193,"w":43,"c":"W"},{"s":193,"w":49,"c":"W"},{"s":193,"w":51,"c":"Y"},{"s":193,"w":55,"c":"W"},{"s":193,"w":58,"c":"W"},{"s":193,"w":60,"c":"W"},{"s":193,"w":64,"c":"W"},{"s":193,"w":68,"c":"W"},{"s":193,"w":73,"c":"W"},{"s":193,"w":80,"c":"W"},{"s":193,"w":82,"c":"W"},{"s":193,"w":84,"c":"W"},{"s":193,"w":89,"c":"W"},{"s":193,"w":94,"c":"W"},{"s":193,"w":97,"c":"W"},{"s":193,"w":98,"c":"W"},{"s":193,"w":100,"c":"W"},
{"s":198,"w":9,"c":"W"},{"s":198,"w":17,"c":"W"},{"s":198,"w":19,"c":"W"},{"s":198,"w":23,"c":"W"},{"s":198,"w":28,"c":"W"},{"s":198,"w":30,"c":"W"},{"s":198,"w":31,"c":"W"},{"s":198,"w":34,"c":"W"},{"s":198,"w":36,"c":"Y"},{"s":198,"w":37,"c":"Y"},{"s":198,"w":38,"c":"W"},{"s":198,"w":45,"c":"Y"},{"s":198,"w":48,"c":"W"},{"s":198,"w":53,"c":"W"},{"s":198,"w":55,"c":"W"},{"s":198,"w":61,"c":"W"},{"s":198,"w":66,"c":"W"},{"s":198,"w":71,"c":"W"},{"s":198,"w":85,"c":"W"},{"s":198,"w":89,"c":"W"},{"s":198,"w":90,"c":"W"},
{"s":200,"w":12,"c":"W"},{"s":200,"w":13,"c":"W"},{"s":200,"w":14,"c":"W"},{"s":200,"w":15,"c":"W"},{"s":200,"w":16,"c":"W"},{"s":200,"w":20,"c":"W"},{"s":200,"w":40,"c":"Y"},{"s":200,"w":41,"c":"Y"},{"s":200,"w":58,"c":"W"},{"s":200,"w":61,"c":"W"},{"s":200,"w":62,"c":"W"},{"s":200,"w":63,"c":"W"},{"s":200,"w":64,"c":"W"},{"s":200,"w":90,"c":"W"},
{"s":209,"w":19,"c":"W"},{"s":209,"w":33,"c":"B"},{"s":209,"w":34,"c":"Y"},{"s":209,"w":35,"c":"B"},{"s":209,"w":38,"c":"W"},{"s":209,"w":39,"c":"W"},{"s":209,"w":41,"c":"W"},{"s":209,"w":48,"c":"W"},{"s":209,"w":59,"c":"W"},{"s":209,"w":60,"c":"R"},{"s":209,"w":64,"c":"W"},{"s":209,"w":68,"c":"W"},{"s":209,"w":76,"c":"W"},{"s":209,"w":85,"c":"W"},{"s":209,"w":92,"c":"Y"},{"s":209,"w":93,"c":"R"},{"s":209,"w":99,"c":"W"},{"s":209,"w":101,"c":"W"},{"s":209,"w":103,"c":"W"},
{"s":210,"w":7,"c":"W"},{"s":210,"w":21,"c":"W"},{"s":210,"w":28,"c":"W"},{"s":210,"w":37,"c":"W"},{"s":210,"w":39,"c":"W"},{"s":210,"w":62,"c":"W"},{"s":210,"w":68,"c":"W"},{"s":210,"w":77,"c":"W"},
{"s":214,"w":8,"c":"W"},{"s":214,"w":10,"c":"W"},{"s":214,"w":12,"c":"W"},{"s":214,"w":28,"c":"W"},{"s":214,"w":36,"c":"W"},{"s":214,"w":37,"c":"Y"},{"s":214,"w":38,"c":"Y"},{"s":214,"w":40,"c":"W"},{"s":214,"w":42,"c":"W"},{"s":214,"w":44,"c":"W"},{"s":214,"w":77,"c":"W"},{"s":214,"w":88,"c":"W"},{"s":214,"w":92,"c":"W"},{"s":214,"w":97,"c":"W"},{"s":214,"w":100,"c":"W"},{"s":214,"w":103,"c":"W"},
{"s":218,"w":19,"c":"W"},{"s":218,"w":30,"c":"W"},{"s":218,"w":31,"c":"W"},{"s":218,"w":36,"c":"W"},{"s":218,"w":40,"c":"Y"},{"s":218,"w":47,"c":"W"},{"s":218,"w":50,"c":"R"},{"s":218,"w":51,"c":"Y"},{"s":218,"w":58,"c":"W"},{"s":218,"w":59,"c":"W"},{"s":218,"w":62,"c":"W"},{"s":218,"w":86,"c":"W"},{"s":218,"w":91,"c":"W"},{"s":218,"w":93,"c":"W"},{"s":218,"w":96,"c":"W"},
{"s":221,"w":2,"c":"W"},{"s":221,"w":7,"c":"W"},{"s":221,"w":8,"c":"W"},{"s":221,"w":10,"c":"W"},{"s":221,"w":13,"c":"W"},{"s":221,"w":16,"c":"W"},{"s":221,"w":23,"c":"W"},{"s":221,"w":26,"c":"W"},{"s":221,"w":27,"c":"W"},{"s":221,"w":31,"c":"W"},{"s":221,"w":34,"c":"W"},{"s":221,"w":35,"c":"W"},{"s":221,"w":36,"c":"W"},{"s":221,"w":37,"c":"W"},{"s":221,"w":38,"c":"W"},{"s":221,"w":39,"c":"W"},{"s":221,"w":48,"c":"W"},{"s":221,"w":54,"c":"R"},{"s":221,"w":55,"c":"W"},{"s":221,"w":57,"c":"W"},{"s":221,"w":59,"c":"R"},{"s":221,"w":60,"c":"R"},{"s":221,"w":64,"c":"R"},{"s":221,"w":71,"c":"W"},{"s":221,"w":74,"c":"W"},{"s":221,"w":80,"c":"W"},{"s":221,"w":82,"c":"W"},{"s":221,"w":86,"c":"W"},{"s":221,"w":90,"c":"W"},{"s":221,"w":93,"c":"W"},{"s":221,"w":96,"c":"W"},{"s":221,"w":97,"c":"W"},{"s":221,"w":98,"c":"W"},{"s":221,"w":99,"c":"W"},{"s":221,"w":100,"c":"W"},{"s":221,"w":101,"c":"W"},{"s":221,"w":102,"c":"W"},{"s":221,"w":103,"c":"W"},{"s":221,"w":104,"c":"W"},
{"s":224,"w":3,"c":"W"},{"s":224,"w":9,"c":"W"},{"s":224,"w":10,"c":"W"},{"s":224,"w":12,"c":"W"},{"s":224,"w":17,"c":"W"},{"s":224,"w":21,"c":"W"},{"s":224,"w":29,"c":"R"},{"s":224,"w":35,"c":"W"},{"s":224,"w":39,"c":"W"},{"s":224,"w":48,"c":"W"},{"s":224,"w":50,"c":"W"},{"s":224,"w":51,"c":"R"},{"s":224,"w":56,"c":"W"},{"s":224,"w":68,"c":"W"},{"s":224,"w":69,"c":"W"},{"s":224,"w":70,"c":"R"},{"s":224,"w":83,"c":"W"},{"s":224,"w":86,"c":"W"},{"s":224,"w":88,"c":"W"},{"s":224,"w":90,"c":"W"},{"s":224,"w":94,"c":"W"},{"s":224,"w":97,"c":"W"},{"s":224,"w":103,"c":"W"},{"s":224,"w":104,"c":"W"},
{"s":225,"w":9,"c":"W"},{"s":225,"w":14,"c":"C"},{"s":225,"w":15,"c":"C"},{"s":225,"w":16,"c":"C"},{"s":225,"w":17,"c":"C"},{"s":225,"w":18,"c":"C"},{"s":225,"w":19,"c":"C"},{"s":225,"w":20,"c":"W"},{"s":225,"w":21,"c":"W"},{"s":225,"w":22,"c":"C"},{"s":225,"w":23,"c":"C"},{"s":225,"w":24,"c":"Y"},{"s":225,"w":25,"c":"C"},{"s":225,"w":41,"c":"W"},{"s":225,"w":67,"c":"W"},{"s":225,"w":78,"c":"W"},{"s":225,"w":79,"c":"W"},{"s":225,"w":92,"c":"W"},
{"s":226,"w":2,"c":"W"},{"s":226,"w":5,"c":"W"},{"s":226,"w":7,"c":"W"},{"s":226,"w":11,"c":"W"},{"s":226,"w":16,"c":"W"},{"s":226,"w":23,"c":"W"},{"s":226,"w":24,"c":"W"},{"s":226,"w":26,"c":"W"},{"s":226,"w":41,"c":"W"},{"s":226,"w":43,"c":"W"},{"s":226,"w":46,"c":"W"},{"s":226,"w":53,"c":"Y"},{"s":226,"w":54,"c":"W"},{"s":226,"w":56,"c":"W"},{"s":226,"w":83,"c":"Y"},{"s":226,"w":103,"c":"W"},
{"s":233,"w":8,"c":"W"},{"s":233,"w":24,"c":"W"},{"s":233,"w":32,"c":"W"},{"s":233,"w":41,"c":"W"},{"s":233,"w":47,"c":"W"},{"s":233,"w":52,"c":"W"},{"s":233,"w":54,"c":"W"},{"s":233,"w":58,"c":"W"},{"s":233,"w":61,"c":"C"},{"s":233,"w":62,"c":"Y"},{"s":233,"w":63,"c":"C"},{"s":233,"w":64,"c":"W"},{"s":233,"w":65,"c":"C"},{"s":233,"w":66,"c":"W"},{"s":233,"w":67,"c":"C"},{"s":233,"w":68,"c":"C"},{"s":233,"w":71,"c":"W"},{"s":233,"w":74,"c":"W"},{"s":233,"w":76,"c":"W"},{"s":233,"w":79,"c":"W"},{"s":233,"w":81,"c":"W"},{"s":233,"w":83,"c":"W"},{"s":233,"w":86,"c":"W"},{"s":233,"w":88,"c":"W"},{"s":233,"w":91,"c":"W"},{"s":233,"w":93,"c":"W"},{"s":233,"w":95,"c":"W"},{"s":233,"w":98,"c":"W"},{"s":233,"w":102,"c":"W"},
{"s":236,"w":2,"c":"W"},{"s":236,"w":9,"c":"W"},{"s":236,"w":11,"c":"W"},{"s":236,"w":16,"c":"W"},{"s":236,"w":19,"c":"W"},{"s":236,"w":22,"c":"W"},{"s":236,"w":32,"c":"W"},{"s":236,"w":36,"c":"W"},{"s":236,"w":46,"c":"W"},{"s":236,"w":47,"c":"Y"},{"s":236,"w":50,"c":"W"},{"s":236,"w":54,"c":"W"},{"s":236,"w":64,"c":"W"},{"s":236,"w":69,"c":"W"},{"s":236,"w":71,"c":"W"},{"s":236,"w":75,"c":"W"},{"s":236,"w":84,"c":"W"},{"s":236,"w":86,"c":"W"},{"s":236,"w":91,"c":"W"},{"s":236,"w":93,"c":"W"},
{"s":244,"w":2,"c":"W"},{"s":244,"w":22,"c":"W"},{"s":244,"w":30,"c":"W"},{"s":244,"w":39,"c":"Y"},
{"s":245,"w":2,"c":"W"},{"s":245,"w":7,"c":"W"},{"s":245,"w":8,"c":"W"},{"s":245,"w":14,"c":"W"},{"s":245,"w":17,"c":"W"},{"s":245,"w":22,"c":"W"},{"s":245,"w":27,"c":"W"},{"s":245,"w":29,"c":"W"},{"s":245,"w":32,"c":"W"},{"s":245,"w":42,"c":"W"},{"s":245,"w":45,"c":"W"},{"s":245,"w":50,"c":"W"},{"s":245,"w":51,"c":"W"},{"s":245,"w":52,"c":"W"},{"s":245,"w":60,"c":"W"},{"s":245,"w":65,"c":"W"},{"s":245,"w":70,"c":"W"},{"s":245,"w":74,"c":"W"},{"s":245,"w":77,"c":"W"},{"s":245,"w":79,"c":"R"},{"s":245,"w":81,"c":"W"},{"s":245,"w":82,"c":"W"},{"s":245,"w":83,"c":"W"},{"s":245,"w":84,"c":"W"},{"s":245,"w":86,"c":"W"},{"s":245,"w":89,"c":"W"},{"s":245,"w":90,"c":"W"},{"s":245,"w":94,"c":"W"},{"s":245,"w":96,"c":"W"},{"s":245,"w":97,"c":"W"},{"s":245,"w":98,"c":"W"},{"s":245,"w":99,"c":"W"},{"s":245,"w":100,"c":"W"},{"s":245,"w":101,"c":"W"},{"s":245,"w":102,"c":"W"},
{"s":246,"w":2,"c":"W"},{"s":246,"w":7,"c":"W"},{"s":246,"w":9,"c":"W"},{"s":246,"w":18,"c":"W"},{"s":246,"w":22,"c":"W"},{"s":246,"w":27,"c":"W"},{"s":246,"w":28,"c":"W"},{"s":246,"w":30,"c":"W"},{"s":246,"w":33,"c":"W"},{"s":246,"w":35,"c":"W"},{"s":246,"w":38,"c":"W"},{"s":246,"w":42,"c":"W"},{"s":246,"w":43,"c":"W"},{"s":246,"w":44,"c":"W"},{"s":246,"w":45,"c":"W"},{"s":246,"w":46,"c":"W"},{"s":246,"w":48,"c":"W"},{"s":246,"w":49,"c":"W"},{"s":246,"w":50,"c":"R"},{"s":246,"w":51,"c":"W"},{"s":246,"w":52,"c":"W"},{"s":246,"w":55,"c":"W"},{"s":246,"w":58,"c":"W"},{"s":246,"w":65,"c":"W"},{"s":246,"w":68,"c":"W"},{"s":246,"w":76,"c":"W"},{"s":246,"w":80,"c":"W"},{"s":246,"w":84,"c":"W"},{"s":246,"w":85,"c":"Y"},{"s":246,"w":88,"c":"W"},{"s":246,"w":89,"c":"W"},{"s":246,"w":95,"c":"W"},{"s":246,"w":96,"c":"W"},{"s":246,"w":97,"c":"W"},{"s":246,"w":98,"c":"W"},{"s":246,"w":103,"c":"W"},
{"s":247,"w":10,"c":"W"},{"s":247,"w":14,"c":"W"},{"s":247,"w":22,"c":"W"},{"s":247,"w":24,"c":"W"},{"s":247,"w":27,"c":"W"},{"s":247,"w":30,"c":"W"},{"s":247,"w":38,"c":"Y"},{"s":247,"w":39,"c":"Y"},{"s":247,"w":43,"c":"W"},{"s":247,"w":44,"c":"W"},{"s":247,"w":50,"c":"W"},{"s":247,"w":51,"c":"W"},{"s":247,"w":58,"c":"W"},{"s":247,"w":60,"c":"W"},{"s":247,"w":62,"c":"R"},{"s":247,"w":67,"c":"W"},{"s":247,"w":69,"c":"W"},{"s":247,"w":77,"c":"W"},{"s":247,"w":82,"c":"W"},{"s":247,"w":83,"c":"W"},{"s":247,"w":91,"c":"W"},{"s":247,"w":94,"c":"W"},{"s":247,"w":104,"c":"W"}
]},
"mark":{"type":"rect","strokeWidth":0.7},
"encoding":{"color":{"field":"c","type":"nominal","legend":null,"scale":{"domain":["W","R","Y","C","G","B","P","K"],"range":["#ffffff","#ff0000","#ffff00","#00ffff","#00ff00","#0000ff","#a020f0","#ffc0cb"]}},"stroke":{"field":"c","type":"nominal","legend":null,"scale":{"domain":["W","R","Y","C","G","B","P","K"],"range":["#ffffff","#ff0000","#ffff00","#00ffff","#00ff00","#0000ff","#a020f0","#ffc0cb"]}}}},
{"data":{"values":[{"s":153,"w":32},{"s":129,"w":92},{"s":186,"w":100}]},
"mark":{"type":"point","shape":"M0,0 L-14.5,-65 L6,-48 L87.6,-188 L122,-163 L40.6,-28 L61,-15 Z","size":4,"filled":true,"fill":"#E5447F","stroke":"#A83A68","strokeWidth":3,"opacity":1}}
]}
